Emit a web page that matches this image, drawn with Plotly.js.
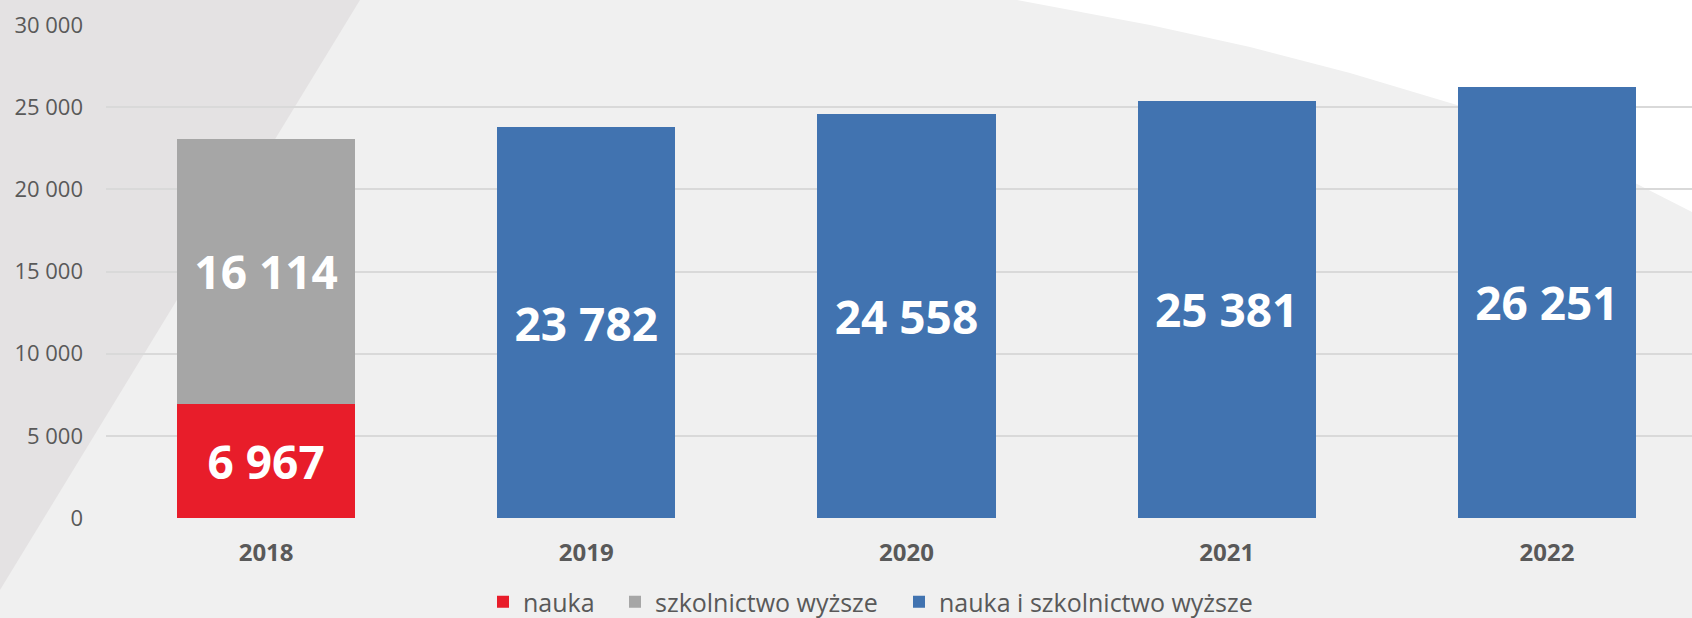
<!DOCTYPE html>
<html>
<head>
<meta charset="utf-8">
<script src="https://cdn.plot.ly/plotly-3.0.1.min.js"></script>
<style>
html,body{margin:0;padding:0;background:#f0f0f0;}
#chart{width:1692px;height:618px;}
</style>
</head>
<body>
<div id="chart"></div>
<script>
// ---- data ----
const years = ['2018', '2019', '2020', '2021', '2022'];
const nauka = [6967, null, null, null, null];
const szkolnictwo = [16114, null, null, null, null];
const naukaISzkolnictwo = [null, 23782, 24558, 25381, 26251];
const seriesNames = ['nauka', 'szkolnictwo wyższe', 'nauka i szkolnictwo wyższe'];
const yTicks = [0, 5000, 10000, 15000, 20000, 25000, 30000];

// ---- layout geometry (pixels) ----
const W = 1692, H = 618;
const mL = 106, mR = 0, mT = 25, mB = 100;
const pw = W - mL - mR, ph = H - mT - mB;
function px(x) { return (x - mL) / pw; }
function py(y) { return (H - mB - y) / ph; }
function path(pts) {
  return 'M' + pts.map(p => px(p[0]).toFixed(5) + ',' + py(p[1]).toFixed(5)).join(' L') + ' Z';
}

const darkPoly = path([[-10, -10], [366, -10], [360, 0], [0, 590], [-10, 600]]);
const whitePoly = path([[1010, -10], [1017, 0], [1150, 25], [1250, 47], [1350, 73], [1457, 105],
  [1540, 140], [1635, 183], [1692, 212], [1710, 222], [1710, -10]]);

const textFont = {family: 'Open Sans, sans-serif', size: 46, color: '#ffffff', weight: 'bold'};

const common = {
  type: 'bar',
  x: years,
  texttemplate: '%{y:,}',
  textposition: 'inside',
  insidetextanchor: 'middle',
  constraintext: 'none',
  textangle: 0,
  textfont: textFont,
  hoverinfo: 'skip',
  width: 0.556
};

const traces = [
  Object.assign({}, common, {y: nauka, name: seriesNames[0], marker: {color: '#e81d2a'}, legend: 'legend'}),
  Object.assign({}, common, {y: szkolnictwo, name: seriesNames[1], marker: {color: '#a6a6a6'}, legend: 'legend2'}),
  Object.assign({}, common, {y: naukaISzkolnictwo, name: seriesNames[2], marker: {color: '#4173b0'}, legend: 'legend3'})
];

function legendAt(leftPx) {
  return {
    orientation: 'h',
    xref: 'container', yref: 'container',
    x: leftPx / W, xanchor: 'left',
    y: 1 - 602 / H, yanchor: 'middle',
    font: {size: 25, color: '#595959'},
    bgcolor: 'rgba(0,0,0,0)',
    itemclick: false, itemdoubleclick: false
  };
}

const layout = {
  width: W, height: H,
  margin: {l: mL, r: mR, t: mT, b: mB, pad: 0, autoexpand: false},
  paper_bgcolor: '#f0f0f0',
  plot_bgcolor: 'rgba(0,0,0,0)',
  barmode: 'stack',
  separators: ', ',
  showlegend: true,
  font: {family: 'Open Sans, sans-serif', color: '#595959'},
  xaxis: {
    type: 'category',
    range: [-0.5, -0.5 + pw / 320.2],
    showgrid: false, zeroline: false, showline: false,
    ticks: '', ticklabelstandoff: 18,
    tickfont: {size: 24, color: '#595959', weight: 'bold'},
    fixedrange: true
  },
  yaxis: {
    range: [0, 30000],
    tickvals: yTicks,
    tickformat: ',',
    showgrid: true, gridcolor: '#d9d9d9', gridwidth: 2,
    zeroline: false, showline: false, ticks: '',
    ticklabelstandoff: 22,
    tickfont: {size: 22, color: '#595959'},
    fixedrange: true
  },
  legend: legendAt(483),
  legend2: legendAt(615),
  legend3: legendAt(899),
  shapes: [
    {type: 'path', xref: 'paper', yref: 'paper', path: darkPoly, fillcolor: '#e4e2e3', line: {width: 0}, layer: 'below'},
    {type: 'path', xref: 'paper', yref: 'paper', path: whitePoly, fillcolor: '#ffffff', line: {width: 0}, layer: 'below'}
  ]
};

Plotly.newPlot('chart', traces, layout, {displayModeBar: false, staticPlot: true});
</script>
</body>
</html>
